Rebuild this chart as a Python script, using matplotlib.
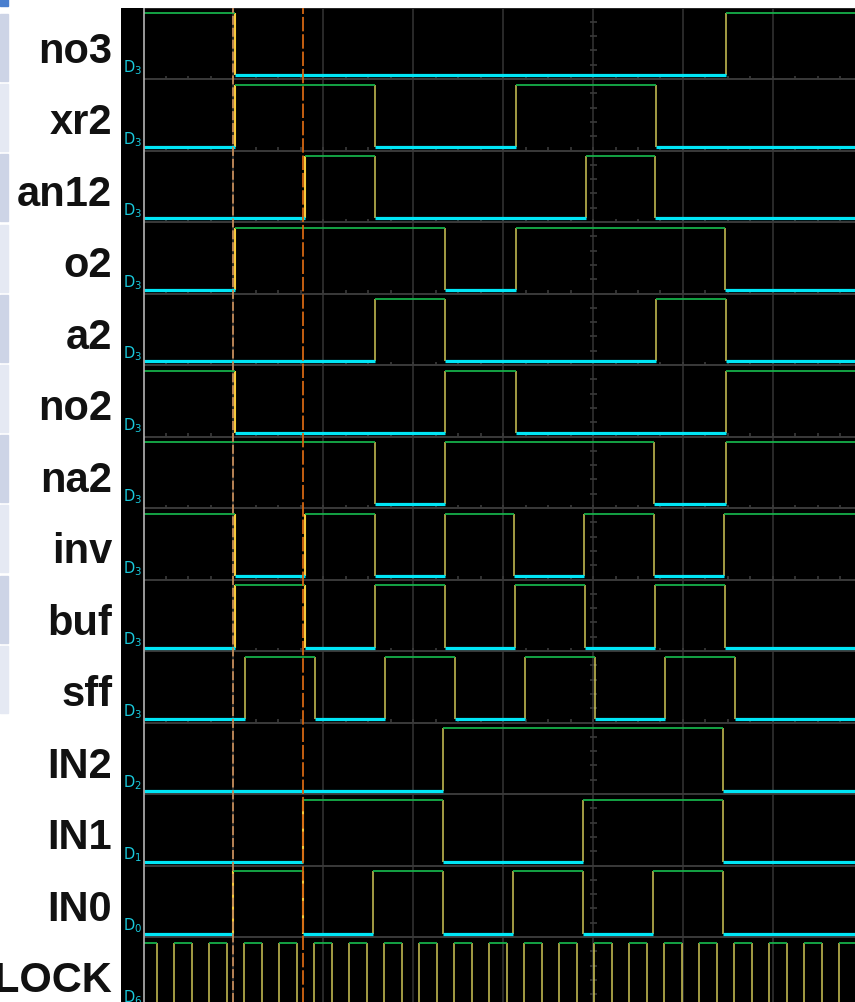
import matplotlib
matplotlib.use('Agg')
import matplotlib.pyplot as plt
import matplotlib.transforms as mtransforms
from matplotlib.patches import Rectangle

# time unit = one clock period, t = 0 at cursor A
names = ['no3', 'xr2', 'an12', 'o2', 'a2', 'no2', 'na2', 'inv', 'buf', 'sff',
         'IN2', 'IN1', 'IN0', 'CLOCK']
channels = [3, 3, 3, 3, 3, 3, 3, 3, 3, 3, 2, 1, 0, 6]
start_levels = [1, 0, 0, 0, 0, 1, 1, 1, 0, 0, 0, 0, 0, 1]

edges = [
    [0.05, 14.07],                                          # no3
    [0.05, 4.04, 8.06, 12.07],                              # xr2
    [2.05, 4.04, 10.06, 12.05],                             # an12
    [0.05, 6.05, 8.06, 14.05],                              # o2
    [4.05, 6.05, 12.07, 14.07],                             # a2
    [0.05, 6.05, 8.06, 14.07],                              # no2
    [4.03, 6.05, 12.03, 14.07],                             # na2
    [0.03, 2.03, 4.03, 6.03, 8.03, 10.03, 12.03, 14.03],    # inv
    [0.05, 2.05, 4.05, 6.05, 8.05, 10.05, 12.05, 14.05],    # buf
    [0.33, 2.33, 4.33, 6.33, 8.33, 10.33, 12.33, 14.33],    # sff
    [6.0, 14.0],                                            # IN2
    [2.0, 6.0, 10.0, 14.0],                                 # IN1
    [0.0, 2.0, 4.0, 6.0, 8.0, 10.0, 12.0, 14.0],            # IN0
    [-2.18, -1.69, -1.18, -0.69, -0.18, 0.31, 0.82, 1.31, 1.82, 2.31,
     2.82, 3.31, 3.82, 4.31, 4.82, 5.31, 5.82, 6.31, 6.82, 7.31,
     7.82, 8.31, 8.82, 9.31, 9.82, 10.31, 10.82, 11.31, 11.82, 12.31,
     12.82, 13.31, 13.82, 14.31, 14.82, 15.31, 15.82, 16.31, 16.82, 17.31],  # CLOCK
]

cursor_a = 0.0
cursor_b = 2.0

W, H = 855, 1003
fig = plt.figure(figsize=(W / 100, H / 100), dpi=100)
fig.patch.set_facecolor('white')

t_left = -2.57      # screen left border
t_max = 17.76
div = 2.569         # one grid division in clock periods

ax = fig.add_axes([121 / W, 0, (W - 121) / W, (H - 9) / H])
ax.set_facecolor('black')
ax.set_xlim(-3.214, t_max)
ax.set_ylim(13.909, 0.007)
ax.axis('off')
ax.add_patch(Rectangle((0, 0), 1, 1, transform=ax.transAxes, color='black', zorder=0))

n_rows = len(names)
y_hi = 0.077
y_lo = 0.951

# grid
for k in range(1, 8):
    ax.axvline(t_left + k * div, color='#2a2a2a', lw=1.4, zorder=1)
for k in range(n_rows):
    ax.hlines(k + 1, t_left, t_max, color='#3a3a3a', lw=1.4, zorder=1)
ax.hlines(0.01, t_left, t_max, color='#2a2a2a', lw=1.4, zorder=1)

# minor ticks on the separators of the D3 rows
tick_x = []
x = t_left + div / 4
while x < t_max:
    tick_x.append(x)
    x += div / 4
for k in range(10):
    ax.vlines(tick_x, k + 1 - 0.045, k + 1, color='#3a3a3a', lw=1.2, zorder=1)

# ticks on the centre line
xc = t_left + 5 * div
for k in range(n_rows):
    ax.hlines([k + m * 0.2 for m in range(1, 5)], xc - 0.1, xc + 0.1,
              color='#3a3a3a', lw=1.2, zorder=1)

# traces
for row, (lvl0, ed) in enumerate(zip(start_levels, edges)):
    bounds = [t_left] + ed + [t_max]
    for i in range(len(bounds) - 1):
        lvl = lvl0 if i % 2 == 0 else 1 - lvl0
        if lvl:
            ax.hlines(row + y_hi, bounds[i], bounds[i + 1], color='#16b04a', lw=1.3, zorder=3)
        else:
            ax.hlines(row + y_lo, bounds[i], bounds[i + 1], color='#00e6f6', lw=2.3, zorder=3)
    for e in ed:
        if e < t_left:
            continue
        near = min(abs(e - cursor_a), abs(e - cursor_b)) < 0.08
        ax.vlines(e, row + y_hi, row + y_lo, color='#f7c93a' if near else '#cfc656',
                  lw=1.5 if near else 1.1, zorder=2.5)

# cursors
ax.axvline(cursor_a, color='#c28a58', lw=1.3, ls=(0, (5, 1.6)), zorder=4)
ax.axvline(cursor_b, color='#d46612', lw=1.3, ls=(0, (8, 1.6)), zorder=4)

# screen left border
ax.axvline(t_left, color='#b4b4b4', lw=1.2, zorder=5)

# labels
blend = mtransforms.blended_transform_factory(fig.transFigure, ax.transData)
for row, (name, ch) in enumerate(zip(names, channels)):
    ax.text(112 / W, row + 0.762, name, transform=blend, ha='right', va='baseline',
            fontsize=30, fontweight='bold', family=['Liberation Sans', 'DejaVu Sans'],
            color='#111111', clip_on=False)
    ax.text(122.5 / W, row + 0.895, 'D$_{%d}$' % ch, transform=blend, ha='left',
            va='baseline', fontsize=10.5, color='#19c9dc', zorder=6)

# side strip of the host window
fig.patches.append(Rectangle((0, (H - 7) / H), 8 / W, 7 / H, transform=fig.transFigure,
                             color='#4a7fcf', zorder=0))
for k in range(10):
    top = 15 + 70.2 * k
    fig.patches.append(Rectangle((0, (H - top - 67) / H), 8 / W, 67 / H,
                                 transform=fig.transFigure,
                                 color='#cdd4e6' if k % 2 == 0 else '#e5e9f3', zorder=0))

fig.savefig('out.png', dpi=100, facecolor='white')
